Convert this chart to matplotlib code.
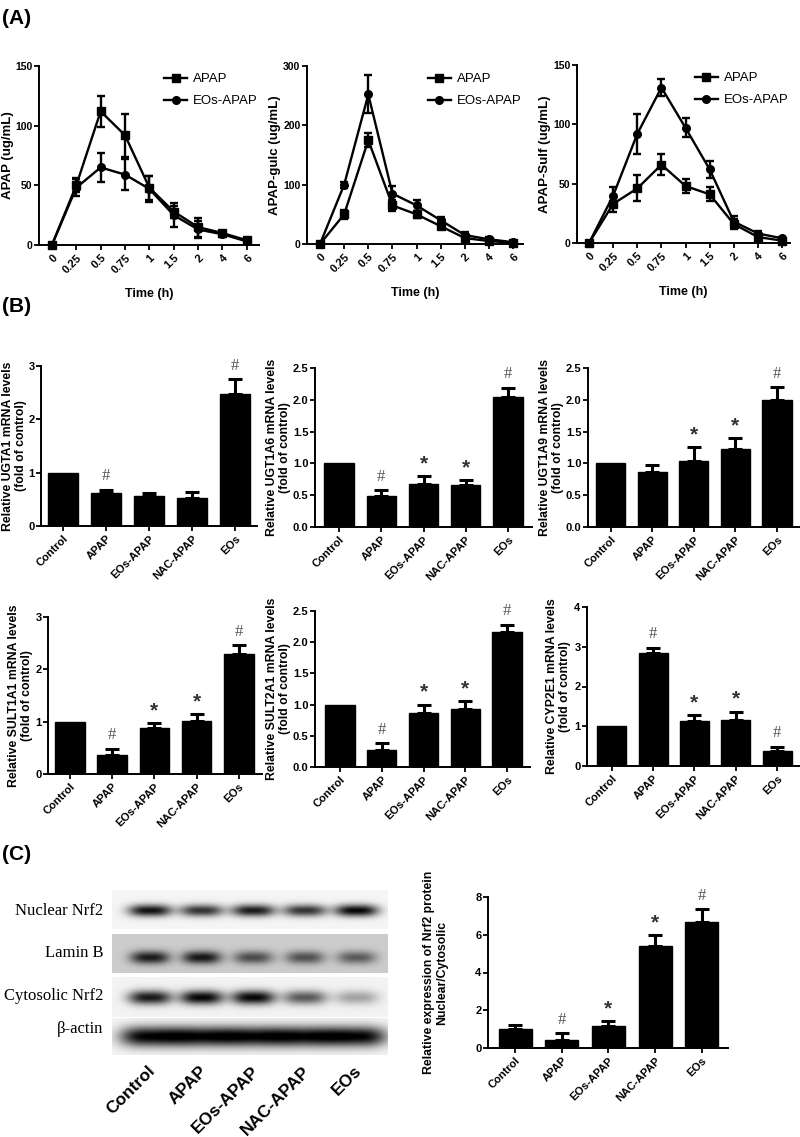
import numpy as np
import matplotlib
matplotlib.use('Agg')
import matplotlib.pyplot as plt
import matplotlib.transforms as mtransforms

plt.rcParams['font.family'] = ['Liberation Sans', 'DejaVu Sans']
plt.rcParams['font.weight'] = 'bold'

W, H = 800, 1137

# ---------------- Data ----------------
time_labels = ['0', '0.25', '0.5', '0.75', '1', '1.5', '2', '4', '6']

apap_conc = [0, 50, 112, 92, 48, 28, 15, 10, 4]
apap_conc_err = [0, 6, 13, 18, 10, 5, 8, 2, 2]
eos_apap_conc = [0, 48, 65, 59, 47, 25, 13, 9, 3]
eos_apap_conc_err = [0, 7, 12, 13, 11, 10, 7, 2, 1.5]

apap_gluc = [0, 50, 175, 65, 50, 30, 10, 5, 2]
apap_gluc_err = [0, 8, 12, 10, 6, 4, 4, 2, 1]
eos_apap_gluc = [0, 100, 252, 85, 65, 40, 15, 8, 3]
eos_apap_gluc_err = [0, 5, 32, 12, 9, 5, 6, 3, 2]

apap_sulf = [0, 33, 46, 66, 48, 41, 16, 5, 2]
apap_sulf_err = [0, 7, 11, 9, 6, 6, 4, 2, 1]
eos_apap_sulf = [0, 40, 92, 131, 97, 62, 18, 8, 4]
eos_apap_sulf_err = [0, 7, 17, 7, 8, 7, 5, 2, 1]

groups = ['Control', 'APAP', 'EOs-APAP', 'NAC-APAP', 'EOs']

ugta1 = [1.0, 0.61, 0.57, 0.53, 2.48]
ugta1_err = [0, 0.07, 0.05, 0.10, 0.27]
ugta1_sig = ['', '#', '', '', '#']

ugt1a6 = [1.0, 0.48, 0.67, 0.66, 2.04]
ugt1a6_err = [0, 0.10, 0.13, 0.08, 0.15]
ugt1a6_sig = ['', '#', '*', '*', '#']

ugt1a9 = [1.0, 0.87, 1.03, 1.22, 2.00]
ugt1a9_err = [0, 0.10, 0.23, 0.18, 0.20]
ugt1a9_sig = ['', '', '*', '*', '#']

sult1a1 = [1.0, 0.37, 0.87, 1.02, 2.30]
sult1a1_err = [0, 0.11, 0.10, 0.13, 0.16]
sult1a1_sig = ['', '#', '*', '*', '#']

sult2a1 = [1.0, 0.28, 0.87, 0.93, 2.17]
sult2a1_err = [0, 0.10, 0.13, 0.12, 0.11]
sult2a1_sig = ['', '#', '*', '*', '#']

cyp2e1 = [1.0, 2.84, 1.13, 1.16, 0.38]
cyp2e1_err = [0, 0.13, 0.16, 0.21, 0.10]
cyp2e1_sig = ['', '#', '*', '*', '#']

nrf2_ratio = [1.0, 0.45, 1.15, 5.40, 6.70]
nrf2_ratio_err = [0.24, 0.32, 0.28, 0.57, 0.66]
nrf2_sig = ['', '#', '*', '*', '#']

blot_rows = ['Nuclear Nrf2', 'Lamin B', 'Cytosolic Nrf2', 'β-actin']
nuclear_nrf2_band = [0.92, 0.78, 0.88, 0.78, 0.97]
lamin_b_band = [0.72, 0.74, 0.52, 0.50, 0.46]
cytosolic_nrf2_band = [0.88, 0.96, 0.96, 0.62, 0.32]
beta_actin_band = [1.0, 1.0, 1.0, 1.0, 1.0]
blot_lane_labels = ['Control', 'APAP', 'EOs-APAP', 'NAC-APAP', 'EOs']

# ---------------- Figure ----------------
fig = plt.figure(figsize=(W / 100, H / 100), dpi=100)


def add_ax(l, r, t, b):
    return fig.add_axes([l / W, 1 - b / H, (r - l) / W, (b - t) / H])


def style(ax):
    for s in ['top', 'right']:
        ax.spines[s].set_visible(False)
    for s in ['left', 'bottom']:
        ax.spines[s].set_linewidth(1.4)
    ax.tick_params(direction='out', length=3.5, width=1.3, labelsize=8, pad=2)
    ax.tick_params(axis='y', pad=1.2)
    for lab in ax.get_yticklabels():
        lab.set_fontweight('bold')


def set_ylabel_px(ax, l, r, label_right_px):
    ax.yaxis.set_label_coords((label_right_px - l) / (r - l), 0.5)


def pk_panel(l, r, t, b, xlim, a, ae, e, ee, ylim, yticks, ylabel, label_px):
    ax = add_ax(l, r, t, b)
    x = np.arange(len(time_labels))
    ax.plot(x, a, marker='s', ms=5.5, color='black', lw=1.7, label='APAP', clip_on=False, zorder=3)
    ax.errorbar(x, a, yerr=ae, fmt='none', ecolor='black', elinewidth=1.7, capsize=3, capthick=1.7,
                clip_on=False)
    ax.plot(x, e, marker='o', ms=5.5, color='black', lw=1.7, label='EOs-APAP', clip_on=False, zorder=3)
    ax.errorbar(x, e, yerr=ee, fmt='none', ecolor='black', elinewidth=1.7, capsize=3, capthick=1.7,
                clip_on=False)
    ax.set_xlim(*xlim)
    ax.set_ylim(*ylim)
    ax.set_yticks(yticks)
    ax.set_xticks(x)
    ax.set_xticklabels(time_labels, rotation=45, ha='right', rotation_mode='anchor',
                       fontsize=9, fontweight='bold')
    style(ax)
    ax.tick_params(axis='y', labelsize=7.5)
    ax.set_ylabel(ylabel, fontsize=9.5, fontweight='bold')
    set_ylabel_px(ax, l, r, label_px)
    ax.set_xlabel('Time (h)', fontsize=9, fontweight='bold', labelpad=9)
    leg = ax.legend(loc='upper right', bbox_to_anchor=(1.02, 0.99), frameon=False, fontsize=9.5,
                    handlelength=1.7, handletextpad=0.5, labelspacing=0.75, borderaxespad=0)
    for t_ in leg.get_texts():
        t_.set_fontweight('normal')
    return ax


pk_panel(39, 259, 66, 245, (-0.53, 8.5), apap_conc, apap_conc_err, eos_apap_conc, eos_apap_conc_err,
         (0, 150), [0, 50, 100, 150], 'APAP (ug/mL)', 14)
pk_panel(307, 523, 66, 244, (-0.54, 8.41), apap_gluc, apap_gluc_err, eos_apap_gluc, eos_apap_gluc_err,
         (0, 300), [0, 100, 200, 300], 'APAP-gulc (ug/mL)', 281)
pk_panel(577, 790, 65, 243, (-0.5, 8.33), apap_sulf, apap_sulf_err, eos_apap_sulf, eos_apap_sulf_err,
         (0, 150), [0, 50, 100, 150], 'APAP-Sulf (ug/mL)', 551)


def bar_panel(l, r, t, b, xlim, vals, errs, sig, ylim, yticks, yticklabels, ylabel, label_px,
              width=0.7):
    ax = add_ax(l, r, t, b)
    x = np.arange(len(groups))
    ax.bar(x, vals, width=width, color='black', edgecolor='black', zorder=2)
    for i, (v, e) in enumerate(zip(vals, errs)):
        if e > 0:
            ax.errorbar(i, v, yerr=[[0], [e]], fmt='none', ecolor='black', elinewidth=2.2,
                        capsize=5, capthick=2.2, zorder=3, clip_on=False)
    for i, (v, e, m) in enumerate(zip(vals, errs, sig)):
        if m == '#':
            ax.annotate('#', xy=(i, v + e), xytext=(0, 4), textcoords='offset points',
                        ha='center', va='bottom', fontsize=12, color='#555555',
                        fontweight='normal', family='Liberation Serif', annotation_clip=False)
        elif m == '*':
            ax.annotate('*', xy=(i, v + e), xytext=(0, 2), textcoords='offset points',
                        ha='center', va='bottom', fontsize=15, color='#333333',
                        fontweight='bold', annotation_clip=False)
    ax.set_xlim(*xlim)
    ax.set_ylim(*ylim)
    ax.set_yticks(yticks)
    ax.set_yticklabels(yticklabels)
    ax.set_xticks(x)
    ax.set_xticklabels(groups, rotation=45, ha='right', rotation_mode='anchor',
                       fontsize=8.5, fontweight='bold')
    style(ax)
    ax.tick_params(axis='y', labelsize=8)
    ax.set_ylabel(ylabel, fontsize=8.8, fontweight='bold', linespacing=1.1)
    set_ylabel_px(ax, l, r, label_px)
    return ax


t3 = [0, 1, 2, 3]
t3l = ['0', '1', '2', '3']
t25 = [0, 0.5, 1.0, 1.5, 2.0, 2.5]
t25l = ['0.0', '0.5', '1.0', '1.5', '2.0', '2.5']

bar_panel(41, 257, 366, 526, (-0.51, 4.51), ugta1, ugta1_err, ugta1_sig, (0, 3), t3, t3l,
          'Relative UGTA1 mRNA levels\n(fold of control)', 27)
bar_panel(315, 532, 368, 527, (-0.57, 4.57), ugt1a6, ugt1a6_err, ugt1a6_sig, (0, 2.5), t25, t25l,
          'Relative UGT1A6 mRNA levels\n(fold of control)', 291)
bar_panel(588, 799, 368, 527, (-0.55, 4.53), ugt1a9, ugt1a9_err, ugt1a9_sig, (0, 2.5), t25, t25l,
          'Relative UGT1A9 mRNA levels\n(fold of control)', 564)
bar_panel(48, 262, 617, 774, (-0.52, 4.55), sult1a1, sult1a1_err, sult1a1_sig, (0, 3), t3, t3l,
          'Relative SULT1A1 mRNA levels\n(fold of control)', 33)
bar_panel(315, 530, 611, 767, (-0.6, 4.55), sult2a1, sult2a1_err, sult2a1_sig, (0, 2.5), t25, t25l,
          'Relative SULT2A1 mRNA levels\n(fold of control)', 291)
bar_panel(587, 799, 607, 766, (-0.6, 4.53), cyp2e1, cyp2e1_err, cyp2e1_sig, (0, 4),
          [0, 1, 2, 3, 4], ['0', '1', '2', '3', '4'],
          'Relative CYP2E1 mRNA levels\n(fold of control)', 571)
bar_panel(488, 728, 897, 1048, (-0.58, 4.56), nrf2_ratio, nrf2_ratio_err, nrf2_sig, (0, 8),
          [0, 2, 4, 6, 8], ['0', '2', '4', '6', '8'],
          'Relative expression of Nrf2 protein\nNuclear/Cytosolic', 448, width=0.71)

# ---------------- Western blot (rendered from band intensities) ----------------
bl, br, bt, bb = 112, 388, 890, 1055
axb = add_ax(bl, br, bt, bb)
xl0, xl1 = -0.73, 4.6
npx_w, npx_h = br - bl, bb - bt
xs = np.linspace(xl0, xl1, npx_w)
img = np.ones((npx_h, npx_w))

# row layout in pixel rows (top, bottom, band centre, band half-height, background, band half-width)
row_specs = [
    (nuclear_nrf2_band, 0, 39, 20, 6.0, 0.96, 0.42),
    (lamin_b_band, 44, 83, 67, 6.5, 0.80, 0.38),
    (cytosolic_nrf2_band, 87, 127, 107, 7.0, 0.95, 0.42),
    (beta_actin_band, 128, 165, 146, 10.0, 0.96, 0.58),
]
for band, top, bot, yc, hh, bg, hw in row_specs:
    ys = np.arange(top, bot)[:, None]
    seg = np.full((bot - top, npx_w), bg)
    for i, d in enumerate(band):
        prof_x = np.exp(-np.abs((xs - i) / hw) ** 3)[None, :]
        prof_y = np.exp(-((ys - yc) / hh) ** 2)
        seg = seg - d * 0.97 * prof_x * prof_y
    img[top:bot] = np.clip(seg, 0, 1)

axb.imshow(img, cmap='gray', vmin=0, vmax=1, aspect='auto',
           extent=(xl0, xl1, npx_h, 0), interpolation='bilinear')
axb.set_xlim(xl0, xl1)
axb.set_ylim(npx_h, 0)
axb.axis('off')

row_label_y = [21, 63, 106, 139]
for lab, yy in zip(blot_rows, row_label_y):
    axb.text(-0.9, yy, lab, ha='right', va='center', fontsize=12, fontweight='normal',
             family=['Liberation Serif', 'DejaVu Serif'])

trans = mtransforms.blended_transform_factory(axb.transData, axb.transAxes)
for i, lab in enumerate(blot_lane_labels):
    axb.annotate(lab, xy=(i - 0.05, 0), xycoords=trans, xytext=(0, -6), textcoords='offset points',
                 rotation=45, ha='right', va='top', rotation_mode='anchor',
                 fontsize=12.5, fontweight='bold')

# ---------------- Panel labels ----------------
fig.text(2 / W, 1 - 18 / H, '(A)', fontsize=15, fontweight='bold', va='center', ha='left')
fig.text(2 / W, 1 - 307 / H, '(B)', fontsize=15, fontweight='bold', va='center', ha='left')
fig.text(2 / W, 1 - 855 / H, '(C)', fontsize=15, fontweight='bold', va='center', ha='left')

fig.savefig('out.png', dpi=100)
